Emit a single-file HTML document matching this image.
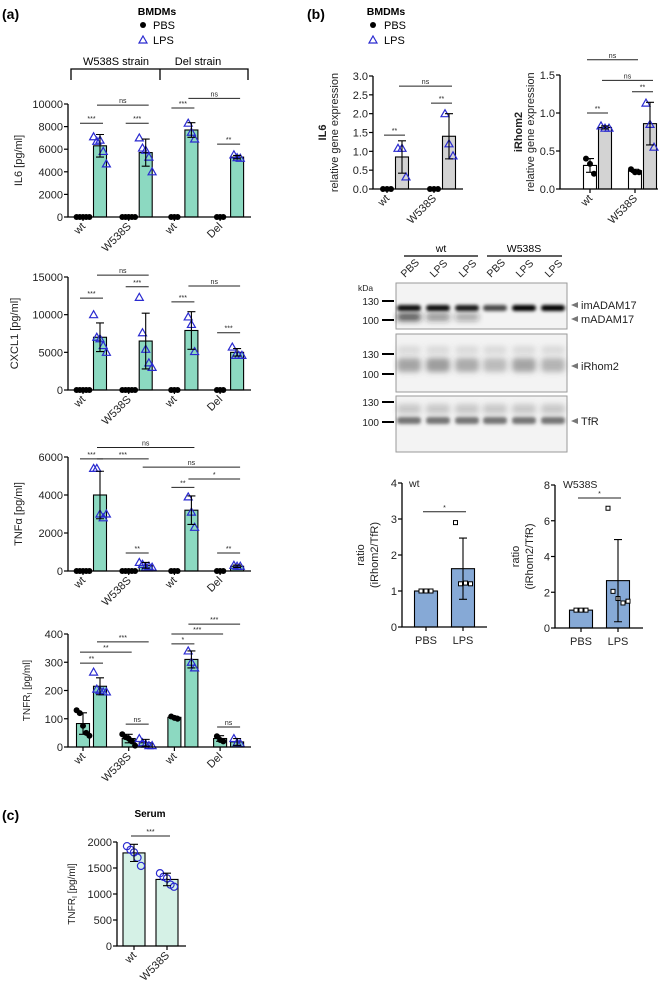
<!DOCTYPE html>
<html><head><meta charset="utf-8"><style>
html,body{margin:0;padding:0;background:#fff;}
svg{display:block;font-family:"Liberation Sans",sans-serif;}
</style></head><body>
<svg id="fig" width="660" height="986" viewBox="0 0 660 986" xmlns="http://www.w3.org/2000/svg">
<defs>
<filter id="blur1" x="-20%" y="-200%" width="140%" height="500%"><feGaussianBlur stdDeviation="1.6"/></filter>
<filter id="blur2" x="-20%" y="-200%" width="140%" height="500%"><feGaussianBlur stdDeviation="3"/></filter>
</defs>
<!-- static labels -->
<text x="2" y="19" font-size="14" font-weight="bold">(a)</text>
<text x="307" y="19" font-size="14" font-weight="bold">(b)</text>
<text x="2" y="820" font-size="14" font-weight="bold">(c)</text>
<g>
<text x="157" y="15" font-size="10.5" font-weight="bold" text-anchor="middle">BMDMs</text>
<circle cx="143" cy="25" r="3" fill="#000"/><text x="153" y="29" font-size="11">PBS</text>
<path d="M143,36 L147,43 L139,43 Z" fill="none" stroke="#2b2bd0" stroke-width="1.2"/><text x="153" y="44" font-size="11">LPS</text>
</g>
<g>
<text x="386" y="15" font-size="10.5" font-weight="bold" text-anchor="middle">BMDMs</text>
<circle cx="373" cy="25" r="3" fill="#000"/><text x="384" y="29" font-size="11">PBS</text>
<path d="M373,36 L377,43 L369,43 Z" fill="none" stroke="#2b2bd0" stroke-width="1.2"/><text x="384" y="44" font-size="11">LPS</text>
</g>
<g stroke="#000" stroke-width="1.3" fill="none">
<path d="M71,80 V69 H248 V80 M160,69 V80"/>
</g>
<text x="116" y="65" font-size="11" text-anchor="middle">W538S strain</text>
<text x="198" y="65" font-size="11" text-anchor="middle">Del strain</text>
<text x="150" y="817" font-size="10" font-weight="bold" text-anchor="middle">Serum</text>
<g id="blot"></g>
<g id="charts"></g>
</svg>
<script>
// ---------- DATA ----------
const A_CATS = ["wt","W538S","wt","Del"];
const IL6_PBS = [0,0,0,0];
const IL6_LPS = [6300,5700,7700,5300];
const IL6_PBS_SD = [0,0,0,0];
const IL6_LPS_SD = [1000,1200,650,150];
const IL6_PBS_PTS = [[0,0,0,0,0],[0,0,0,0,0],[0,0,0],[0,0,0]];
const IL6_LPS_PTS = [[7100,6700,6800,5800,4700],[7000,6100,5900,5300,4000],[8300,7500,6900],[5500,5250,5200]];
const IL6_SIG = [[0,0,0,1,8300,"***"],[0,1,1,1,9900,"ns"],[1,0,1,1,8300,"***"],[2,0,2,1,9650,"***"],[2,1,3,1,10500,"ns"],[3,0,3,1,6450,"**"]];
const IL6_TICKS = [0,2000,4000,6000,8000,10000];

const CX_PBS = [0,0,0,0];
const CX_LPS = [7000,6500,7900,5000];
const CX_PBS_SD = [0,0,0,0];
const CX_LPS_SD = [1900,3700,2500,500];
const CX_PBS_PTS = [[0,0,0,0,0],[0,0,0,0,0],[0,0,0],[0,0,0]];
const CX_LPS_PTS = [[10000,7000,6800,5900,5000],[12300,7600,5400,3600,3000],[9700,8700,5100],[5700,4600,4600,4600]];
const CX_SIG = [[0,0,0,1,12200,"***"],[0,1,1,1,15250,"ns"],[1,0,1,1,13700,"***"],[2,0,2,1,11700,"***"],[2,1,3,1,13800,"ns"],[3,0,3,1,7600,"***"]];
const CX_TICKS = [0,5000,10000,15000];

const TNF_PBS = [0,0,0,0];
const TNF_LPS = [4000,300,3200,250];
const TNF_PBS_SD = [0,0,0,0];
const TNF_LPS_SD = [1250,150,750,60];
const TNF_PBS_PTS = [[0,0,0,0,0],[0,0,0,0,0],[0,0,0],[0,0,0]];
const TNF_LPS_PTS = [[5400,5400,3000,2800,3000],[450,350,200,250,200],[3900,3100,2300],[300,250,250]];
const TNF_SIG = [[0,0,0,1,5900,"***"],[0,1,1,1,5900,"***"],[0,1,2,1,6500,"ns"],[1,1,3,1,5470,"ns"],[2,0,2,1,4400,"**"],[2,1,3,1,4840,"*"],[1,0,1,1,950,"**"],[3,0,3,1,950,"**"]];
const TNF_TICKS = [0,2000,4000,6000];

const TR_PBS = [83,30,105,30];
const TR_LPS = [215,15,310,18];
const TR_PBS_SD = [38,15,4,10];
const TR_LPS_SD = [30,12,30,12];
const TR_PBS_PTS = [[130,120,75,50,40],[45,35,30,20,5],[108,103,100],[38,25,20]];
const TR_LPS_PTS = [[265,205,200,195,195],[30,15,10,5,5],[340,300,280],[30,15,12]];
const TR_SIG = [[0,0,0,1,297,"**"],[0,0,1,0,336,"**"],[0,1,1,1,372,"***"],[1,0,1,1,81,"ns"],[2,0,2,1,365,"*"],[2,0,3,0,400,"***"],[2,1,3,1,435,"***"],[3,0,3,1,71,"ns"]];
const TR_TICKS = [0,100,200,300,400];

const B_CATS = ["wt","W538S"];
const QIL6_PBS = [0,0];
const QIL6_LPS = [0.85,1.4];
const QIL6_PBS_SD = [0,0];
const QIL6_LPS_SD = [0.43,0.6];
const QIL6_PBS_PTS = [[0,0,0],[0,0,0]];
const QIL6_LPS_PTS = [[1.08,1.08,0.32],[2.0,1.2,0.88]];
const QIL6_SIG = [[0,0,0,1,1.43,"**"],[1,0,1,1,2.28,"**"],[0,1,1,1,2.73,"ns"]];
const QIL6_TICKS = [0,0.5,1.0,1.5,2.0,2.5,3.0];

const QIR_PBS = [0.31,0.24];
const QIR_LPS = [0.81,0.86];
const QIR_PBS_SD = [0.09,0.02];
const QIR_LPS_SD = [0.02,0.28];
const QIR_PBS_PTS = [[0.4,0.33,0.2],[0.26,0.22,0.22]];
const QIR_LPS_PTS = [[0.83,0.8,0.8],[1.13,0.85,0.55]];
const QIR_SIG = [[0,0,0,1,1.0,"**"],[1,0,1,1,1.28,"**"],[0,1,1,1,1.43,"ns"],[0,0,1,0,1.7,"ns"]];
const QIR_TICKS = [0,0.5,1.0,1.5];

const R_CATS = ["PBS","LPS"];
const RWT_VALS = [1.0,1.62];
const RWT_SD = [0,0.85];
const RWT_PTS = [[1,1,1],[2.9,1.2,1.22,1.2]];
const RWT_SIG = [[0,0,1,0,3.2,"*"]];
const RWT_TICKS = [0,1,2,3,4];
const RMU_VALS = [1.0,2.65];
const RMU_SD = [0,2.3];
const RMU_PTS = [[1,1,1],[6.7,2.05,1.65,1.4,1.5]];
const RMU_SIG = [[0,0,1,0,7.27,"*"]];
const RMU_TICKS = [0,2,4,6,8];

const C_CATS = ["wt","W538S"];
const SER_VALS = [1790,1280];
const SER_SD = [165,120];
const SER_PTS = [[1920,1850,1800,1700,1540],[1400,1330,1300,1180,1140]];
const SER_SIG = [[0,0,1,0,2115,"***"]];
const SER_TICKS = [0,500,1000,1500,2000];

// ---------- DRAWING ----------
const NS = "http://www.w3.org/2000/svg";
const root = document.getElementById("charts");
function mk(tag, attrs, parent){ const e=document.createElementNS(NS,tag); for(const k in attrs) e.setAttribute(k,attrs[k]); (parent||root).appendChild(e); return e; }
const BLUE = "#2b2bd0";

function marker(g, type, x, y){
  let m;
  if(type==="dot"){ m=mk("circle",{cx:x,cy:y,r:3,fill:"#000"},g); }
  else if(type==="tri"){ m=mk("path",{d:`M${x},${y-4} L${x+4},${y+3} L${x-4},${y+3} Z`,fill:"none",stroke:BLUE,"stroke-width":1.2},g); }
  else if(type==="sq"){ m=mk("rect",{x:x-2,y:y-2,width:4,height:4,fill:"#fff",stroke:"#000","stroke-width":1},g); }
  else { m=mk("circle",{cx:x,cy:y,r:3.6,fill:"none",stroke:BLUE,"stroke-width":1.2},g); }
  
  
}

function chart(o){
  const g = mk("g",{});
  
  
  const ymax = o.ticks[o.ticks.length-1];
  const Y = v => o.y0 - (v/ymax)*(o.y0-o.yTop);
  const X = (gi,si) => o.ax + o.first + gi*o.spacing + o.offs[si];
  // bars
  o.series.forEach((s,si)=>{
    s.vals.forEach((v,gi)=>{
      const cx = X(gi,si);
      const h = o.y0 - Y(v);
      if(h>0.5){
        const b = mk("rect",{x:cx-o.barW/2,y:Y(v),width:o.barW,height:h,fill:s.fill,stroke:"#000","stroke-width":1.1},g);
        
        
      }
      const pts = s.pts[gi];
      const n = pts.length;
      pts.forEach((p,k)=>{ marker(g, s.marker, cx + (k-(n-1)/2)*o.jit, Y(p)); });
      const sd = s.sd[gi];
      if(sd>0){
        const e = mk("path",{d:`M${cx},${Y(v-sd)} V${Y(v+sd)} M${cx-4},${Y(v+sd)} H${cx+4} M${cx-4},${Y(v-sd)} H${cx+4}`,stroke:"#000","stroke-width":1.1,fill:"none"},g);
        
        
      }
    });
  });
  // axes
  const ax = mk("path",{d:`M${o.ax},${o.yTop} V${o.y0} H${o.xEnd}`,stroke:"#000","stroke-width":1.3,fill:"none"},g);
  
  
  o.ticks.forEach(t=>{
    mk("line",{x1:o.ax-4,x2:o.ax,y1:Y(t),y2:Y(t),stroke:"#000","stroke-width":1.2},g);
    const tl = mk("text",{x:o.ax-5,y:Y(t)+4,"font-size":o.fs||11,"text-anchor":"end",fill:"#222"},g);
    tl.textContent = o.fmt ? o.fmt(t) : t;
    
    
  });
  o.cats.forEach((c,gi)=>{
    const cx = o.tickCenter ? o.ax + o.first + gi*o.spacing + o.tickCenter : X(gi,0);
    mk("line",{x1:cx,x2:cx,y1:o.y0,y2:o.y0+4,stroke:"#000","stroke-width":1.2},g);
    let tl;
    if(o.rot){ tl = mk("text",{x:cx+3,y:o.y0+10,"font-size":11,"text-anchor":"end",transform:`rotate(-45 ${cx+3} ${o.y0+10})`,fill:"#222"},g); }
    else { tl = mk("text",{x:cx,y:o.y0+17,"font-size":11,"text-anchor":"middle",fill:"#222"},g); }
    tl.textContent = c;
    
    
  });
  // significance
  o.sig.forEach(s=>{
    const x1 = X(s[0],s[1])-3, x2 = X(s[2],s[3])+3, y = Y(s[4]);
    const l = mk("line",{x1:x1,x2:x2,y1:y,y2:y,stroke:"#222","stroke-width":1},g);
    
    
    const t = mk("text",{x:(x1+x2)/2,y:y-2,"font-size":7,"text-anchor":"middle",fill:"#222"},g);
    t.textContent = s[5];
    
    
  });
  // y labels
  o.ylab.forEach(L=>{
    const t = mk("text",{x:L.x,y:(o.y0+o.yTop)/2,"font-size":L.fs||11,"text-anchor":"middle","font-weight":L.bold?"bold":"normal",transform:`rotate(-90 ${L.x} ${(o.y0+o.yTop)/2})`,fill:"#222"},g);
    if(L.sub){ t.textContent = L.text; const ts = mk("tspan",{"font-size":7,dy:2},t); ts.textContent = "I"; const ts2 = mk("tspan",{dy:-2},t); ts2.textContent = L.sub; }
    else t.textContent = L.text;
    
    
  });
  if(o.title){
    const t = mk("text",{x:o.title.x,y:o.title.y,"font-size":10.5,fill:"#222"},g);
    t.textContent = o.title.text;
    
    
  }
}

const TEAL = "#8cd9c1";
function aChart(name, y0, yTop, ticks, cats, pv, lv, psd, lsd, pp, lp, sig, ylab){
  chart({name, ax:68, y0, yTop, xEnd:251, ticks, cats, first:15, spacing:45.7, offs:[0,17], barW:13, jit:3.2, rot:true, sig,
    series:[{key:"pbs",vals:pv,sd:psd,pts:pp,fill:TEAL,marker:"dot"},{key:"lps",vals:lv,sd:lsd,pts:lp,fill:TEAL,marker:"tri"}],
    ylab:[ylab]});
}
aChart("il6-chart",217,104,IL6_TICKS,A_CATS,IL6_PBS,IL6_LPS,IL6_PBS_SD,IL6_LPS_SD,IL6_PBS_PTS,IL6_LPS_PTS,IL6_SIG,{x:22,text:"IL6 [pg/ml]"});
aChart("cxcl1-chart",390,277,CX_TICKS,A_CATS,CX_PBS,CX_LPS,CX_PBS_SD,CX_LPS_SD,CX_PBS_PTS,CX_LPS_PTS,CX_SIG,{x:18,text:"CXCL1 [pg/ml]"});
aChart("tnfa-chart",571,457,TNF_TICKS,A_CATS,TNF_PBS,TNF_LPS,TNF_PBS_SD,TNF_LPS_SD,TNF_PBS_PTS,TNF_LPS_PTS,TNF_SIG,{x:22,text:"TNFα [pg/ml]"});
aChart("tnfr-chart",747,634,TR_TICKS,A_CATS,TR_PBS,TR_LPS,TR_PBS_SD,TR_LPS_SD,TR_PBS_PTS,TR_LPS_PTS,TR_SIG,{x:30,text:"TNFR",sub:" [pg/ml]",fs:10});

const oneDec = t => t.toFixed(1);
chart({name:"qpcr-il6-chart", ax:373, y0:189, yTop:76, xEnd:463, ticks:QIL6_TICKS, fmt:oneDec, cats:B_CATS, first:14, spacing:47, offs:[0,15], barW:13, jit:4, rot:true, sig:QIL6_SIG,
  series:[{key:"pbs",vals:QIL6_PBS,sd:QIL6_PBS_SD,pts:QIL6_PBS_PTS,fill:"#fff",marker:"dot"},{key:"lps",vals:QIL6_LPS,sd:QIL6_LPS_SD,pts:QIL6_LPS_PTS,fill:"#d3d3d3",marker:"tri"}],
  ylab:[{x:326,text:"IL6",bold:true},{x:338,text:"relative gene expression"}]});
chart({name:"qpcr-irhom2-chart", ax:560, y0:189, yTop:75, xEnd:658, ticks:QIR_TICKS, fmt:oneDec, cats:B_CATS, first:30, spacing:45, offs:[0,15], barW:13, jit:4, rot:true, sig:QIR_SIG,
  series:[{key:"pbs",vals:QIR_PBS,sd:QIR_PBS_SD,pts:QIR_PBS_PTS,fill:"#fff",marker:"dot"},{key:"lps",vals:QIR_LPS,sd:QIR_LPS_SD,pts:QIR_LPS_PTS,fill:"#d3d3d3",marker:"tri"}],
  ylab:[{x:522,text:"iRhom2",bold:true},{x:534,text:"relative gene expression"}]});

const SBLUE = "#86a9d6";
chart({name:"ratio-wt-chart", ax:402, y0:627, yTop:483, xEnd:487, ticks:RWT_TICKS, cats:R_CATS, first:24, spacing:37, offs:[0], barW:23, jit:5, rot:false, sig:RWT_SIG,
  series:[{key:"all",vals:RWT_VALS,sd:RWT_SD,pts:RWT_PTS,fill:SBLUE,marker:"sq"}],
  ylab:[{x:364,text:"ratio"},{x:378,text:"(iRhom2/TfR)"}], title:{x:409,y:487,text:"wt"}});
chart({name:"ratio-w538s-chart", ax:555, y0:628, yTop:485, xEnd:643, ticks:RMU_TICKS, cats:R_CATS, first:26, spacing:37, offs:[0], barW:23, jit:5, rot:false, sig:RMU_SIG,
  series:[{key:"all",vals:RMU_VALS,sd:RMU_SD,pts:RMU_PTS,fill:SBLUE,marker:"sq"}],
  ylab:[{x:519,text:"ratio"},{x:533,text:"(iRhom2/TfR)"}], title:{x:563,y:488,text:"W538S"}});

chart({name:"serum-tnfr-chart", ax:117, y0:946, yTop:842, xEnd:186, ticks:SER_TICKS, cats:C_CATS, first:17, spacing:33, offs:[0], barW:22, jit:3.5, rot:true, sig:SER_SIG,
  series:[{key:"all",vals:SER_VALS,sd:SER_SD,pts:SER_PTS,fill:"#d5f1e6",marker:"circ"}],
  ylab:[{x:75,text:"TNFR",sub:" [pg/ml]",fs:10}]});

// ---------- WESTERN BLOT ----------
const blot = document.getElementById("blot");
function bm(tag, attrs){ return mk(tag, attrs, blot); }
const laneX = [409,438,467,495,524,553];
const laneLab = ["PBS","LPS","LPS","PBS","LPS","LPS"];
laneLab.forEach((l,i)=>{
  const t = bm("text",{x:laneX[i]-4,y:278,"font-size":10.5,transform:`rotate(-45 ${laneX[i]-4} 278)`,fill:"#222"});
  t.textContent = l;
  
  
});
bm("line",{x1:404,x2:478,y1:256,y2:256,stroke:"#000","stroke-width":1.2});
bm("line",{x1:487,x2:562,y1:256,y2:256,stroke:"#000","stroke-width":1.2});
let gt = bm("text",{x:441,y:252,"font-size":10.5,"text-anchor":"middle"}); gt.textContent="wt";
gt = bm("text",{x:524,y:252,"font-size":10.5,"text-anchor":"middle"}); gt.textContent="W538S";
const k = bm("text",{x:358,y:291,"font-size":8.5,fill:"#222"}); k.textContent="kDa";
const frames = [[283,329,301,320],[334,392,354,374],[396,452,402,422]];
frames.forEach((f,fi)=>{
  bm("rect",{x:396,y:f[0],width:171,height:f[1]-f[0],fill:"#f3f3f3",stroke:"#999","stroke-width":1});
  [[f[2],"130"],[f[3],"100"]].forEach(m=>{
    bm("line",{x1:382,x2:394,y1:m[0],y2:m[0],stroke:"#000","stroke-width":2});
    const t = bm("text",{x:379,y:m[0]+4,"font-size":10,"text-anchor":"end",fill:"#222"}); t.textContent = m[1];
  });
});
// bands
const imA = [0.95,0.95,0.9,0.7,1,1];
laneX.forEach((x,i)=>{
  bm("rect",{x:x-12,y:305,width:24,height:6,rx:3,fill:"#000","fill-opacity":imA[i],filter:"url(#blur1)"});
  if(i<3) bm("rect",{x:x-12,y:313,width:24,height:8,rx:3,fill:"#222","fill-opacity":[0.75,0.45,0.35][i],filter:"url(#blur2)"});
  bm("rect",{x:x-12,y:358,width:24,height:14,rx:4,fill:"#555","fill-opacity":[0.5,0.55,0.45,0.35,0.5,0.4][i],filter:"url(#blur2)"});
  bm("rect",{x:x-12,y:346,width:24,height:8,rx:4,fill:"#888","fill-opacity":0.25,filter:"url(#blur2)"});
  bm("rect",{x:x-12,y:417,width:24,height:7,rx:3,fill:"#333","fill-opacity":0.65,filter:"url(#blur1)"});
  bm("rect",{x:x-12,y:404,width:24,height:10,rx:3,fill:"#666","fill-opacity":0.3,filter:"url(#blur2)"});
});
[[305,"imADAM17"],[319,"mADAM17"],[366,"iRhom2"],[421,"TfR"]].forEach(b=>{
  bm("path",{d:`M571,${b[0]} L578,${b[0]-3} L578,${b[0]+3} Z`,fill:"#777"});
  const t = bm("text",{x:581,y:b[0]+4,"font-size":11,fill:"#222"}); t.textContent=b[1];
  
  
});
</script>
</body></html>
